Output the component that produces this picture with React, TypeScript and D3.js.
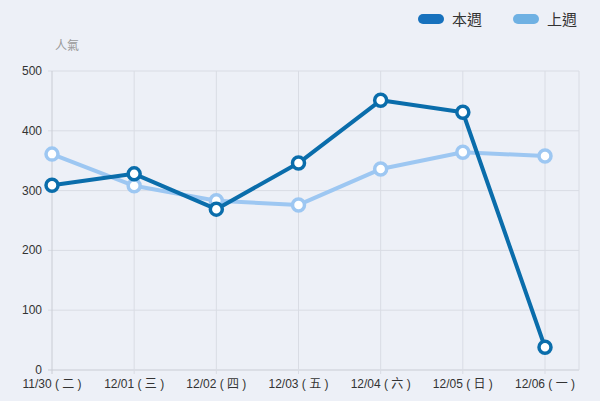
import React from "react";
import * as d3 from "d3";

const categories = ["11/30 ( 二 )", "12/01 ( 三 )", "12/02 ( 四 )", "12/03 ( 五 )", "12/04 ( 六 )", "12/05 ( 日 )", "12/06 ( 一 )"];
const thisWeek = [309, 328, 269, 346, 451, 431, 38];
const lastWeek = [361, 308, 283, 276, 336, 364, 358];
const yTicks = [0, 100, 200, 300, 400, 500];
const seriesNames = ["本週", "上週"];

const W = 600, H = 401;
const left = 52, right = 579, top = 71, bottom = 370;
const FONT = "'Liberation Sans', Arial, 'Noto Sans CJK TC', sans-serif";

export default function App() {
  const x = d3.scalePoint<string>().domain(categories).range([left, 545]);
  const y = d3.scaleLinear().domain([0, 500]).range([bottom, top]);
  const line = d3.line<number>().x((_, i) => x(categories[i])!).y((d) => y(d));
  const series = [
    { name: seriesNames[0], data: thisWeek, color: "#0a6dab", legend: "#1771bd" },
    { name: seriesNames[1], data: lastWeek, color: "#9dc7f2", legend: "#6fb1e3" },
  ];
  return (
    <svg width={W} height={H} style={{ position: "absolute", left: 0, top: 0, background: "#edf0f7" }}>
      <rect width={W} height={H} fill="#edf0f7" />
      {yTicks.map((t) => (
        <g key={t}>
          <line x1={left - 4} x2={right} y1={y(t)} y2={y(t)} stroke={t === 0 ? "#c9ccd4" : "#d9dce4"} strokeWidth={1} />
          <text x={42} y={y(t) + 4} textAnchor="end" fontSize={12} fill="#333" fontFamily={FONT}>{t}</text>
        </g>
      ))}
      {categories.map((c) => (
        <g key={c}>
          <line x1={x(c)} x2={x(c)} y1={top} y2={bottom + 4} stroke={c === categories[0] ? "#c9ccd4" : "#d9dce4"} strokeWidth={1} />
          <text x={x(c)} y={388} textAnchor="middle" fontSize={12} fill="#333" fontFamily={FONT}>{c}</text>
        </g>
      ))}
      <line x1={right} x2={right} y1={top} y2={bottom} stroke="#d9dce4" />
      <text x={55} y={50} fontSize={12} fill="#9a9a9a" fontFamily={FONT}>人氣</text>
      {series.slice().reverse().map((s) => (
        <g key={s.name}>
          <path d={line(s.data)!} fill="none" stroke={s.color} strokeWidth={4} strokeLinejoin="round" />
          {s.data.map((v, i) => (
            <circle key={i} cx={x(categories[i])} cy={y(v)} r={6} fill="#fff" stroke={s.color} strokeWidth={3.5} />
          ))}
        </g>
      ))}
      {series.map((s, i) => (
        <g key={s.name} transform={`translate(${418 + i * 95},19)`}>
          <rect x={0} y={-5} width={26} height={10} rx={5} fill={s.legend} />
          <text x={34} y={5.5} fontSize={15} fill="#333" fontFamily={FONT}>{s.name}</text>
        </g>
      ))}
    </svg>
  );
}
